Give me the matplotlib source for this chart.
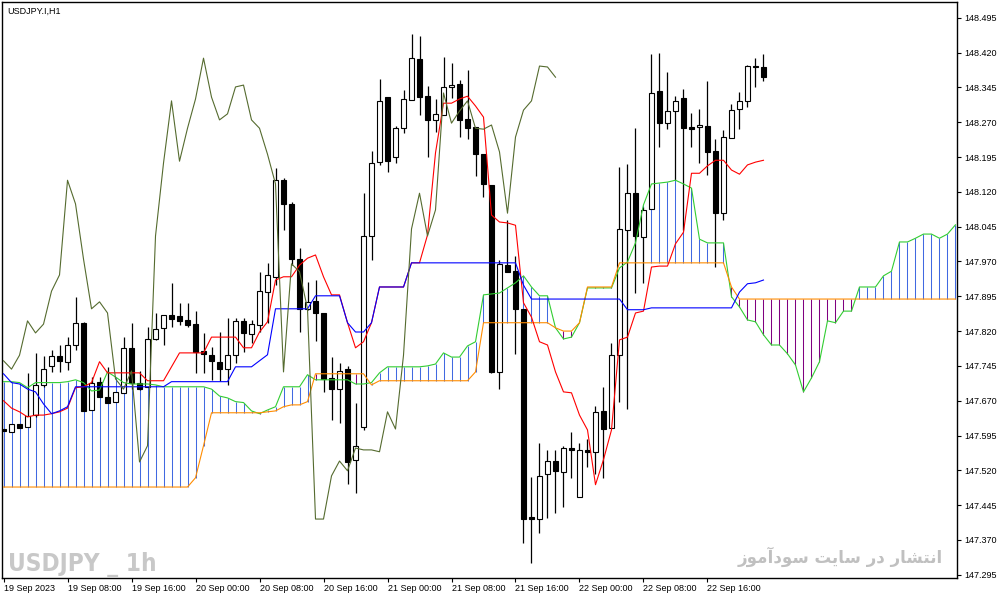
import matplotlib
matplotlib.use('Agg')
import matplotlib.pyplot as plt
import numpy as np

# USDJPY.I H1 candles, 19 Sep 2023 00:00 .. 22 Sep 2023 23:00
opens = [147.609, 147.603, 147.620, 147.614, 147.639, 147.704, 147.745, 147.766, 147.754, 147.790,
         147.838, 147.650, 147.711, 147.678, 147.668, 147.687, 147.783, 147.709, 147.700, 147.803,
         147.827, 147.855, 147.853, 147.844, 147.835, 147.777, 147.768, 147.754, 147.738, 147.768,
         147.842, 147.814, 147.833, 147.904, 147.937, 148.145, 148.094, 147.975, 147.868, 147.885,
         147.859, 147.719, 147.695, 147.738, 147.543, 147.614, 148.025, 148.184, 148.324, 148.195,
         148.257, 148.318, 148.406, 148.326, 148.275, 148.285, 148.346, 148.352, 148.277, 148.260,
         148.201, 148.135, 147.732, 147.962, 147.950, 147.868, 147.420, 147.415, 147.512, 147.540,
         147.517, 147.568, 147.463, 147.564, 147.560, 147.648, 147.611, 147.768, 148.038, 148.117,
         148.023, 148.083, 148.337, 148.268, 148.294, 148.322, 148.260, 148.260, 148.262, 148.208,
         148.074, 148.236, 148.298, 148.316, 148.391, 148.389]
highs = [147.609, 147.620, 147.620, 147.730, 147.773, 147.766, 147.779, 147.790, 147.807, 147.894,
         147.840, 147.721, 147.721, 147.743, 147.689, 147.807, 147.838, 147.734, 147.829, 147.860,
         147.855, 147.924, 147.881, 147.881, 147.864, 147.816, 147.786, 147.818, 147.849, 147.849,
         147.849, 147.844, 147.948, 147.967, 148.171, 148.150, 148.098, 147.999, 147.926, 147.930,
         147.859, 147.764, 147.751, 147.745, 147.666, 148.117, 148.208, 148.363, 148.324, 148.262,
         148.339, 148.460, 148.455, 148.348, 148.320, 148.410, 148.397, 148.361, 148.382, 148.260,
         148.201, 148.135, 147.973, 148.059, 147.982, 147.868, 147.506, 147.579, 147.564, 147.564,
         147.573, 147.603, 147.579, 147.588, 147.659, 147.700, 147.794, 148.173, 148.180, 148.257,
         148.088, 148.417, 148.419, 148.378, 148.326, 148.341, 148.290, 148.298, 148.359, 148.234,
         148.253, 148.309, 148.335, 148.393, 148.408, 148.417]
lows = [147.605, 147.603, 147.611, 147.614, 147.635, 147.700, 147.732, 147.732, 147.736, 147.779,
        147.648, 147.650, 147.678, 147.666, 147.668, 147.687, 147.695, 147.693, 147.700, 147.801,
        147.790, 147.829, 147.833, 147.829, 147.730, 147.730, 147.715, 147.713, 147.704, 147.751,
        147.775, 147.794, 147.818, 147.838, 147.919, 148.038, 147.962, 147.818, 147.866, 147.799,
        147.689, 147.629, 147.622, 147.491, 147.472, 147.607, 147.973, 148.178, 148.163, 148.182,
        148.247, 148.318, 148.285, 148.195, 148.249, 148.285, 148.322, 148.238, 148.234, 148.154,
        148.109, 147.730, 147.695, 147.948, 147.771, 147.364, 147.321, 147.385, 147.418, 147.428,
        147.441, 147.504, 147.463, 147.527, 147.513, 147.504, 147.611, 147.668, 147.652, 147.902,
        147.924, 148.083, 148.216, 148.255, 148.145, 148.038, 148.216, 148.182, 148.156, 147.958,
        148.059, 148.236, 148.255, 148.303, 148.346, 148.359]
closes = [147.605, 147.620, 147.611, 147.637, 147.704, 147.738, 147.766, 147.756, 147.790, 147.838,
          147.648, 147.709, 147.678, 147.666, 147.689, 147.783, 147.709, 147.695, 147.803, 147.825,
          147.855, 147.846, 147.842, 147.833, 147.775, 147.771, 147.756, 147.738, 147.768, 147.842,
          147.816, 147.835, 147.906, 147.941, 148.145, 148.094, 147.975, 147.868, 147.883, 147.859,
          147.717, 147.695, 147.734, 147.538, 147.573, 148.025, 148.182, 148.316, 148.186, 148.257,
          148.320, 148.408, 148.324, 148.275, 148.288, 148.346, 148.350, 148.275, 148.257, 148.201,
          148.137, 147.732, 147.965, 147.948, 147.868, 147.415, 147.415, 147.508, 147.540, 147.519,
          147.568, 147.564, 147.564, 147.560, 147.646, 147.609, 147.768, 148.040, 148.117, 148.025,
          148.081, 148.333, 148.268, 148.294, 148.316, 148.257, 148.255, 148.264, 148.206, 148.074,
          148.238, 148.296, 148.316, 148.391, 148.389, 148.367]

# Ichimoku lines
tenkan = [147.670, 147.654, 147.646, 147.635, 147.639, 147.639, 147.642, 147.646, 147.654, 147.698,
          147.700, 147.709, 147.754, 147.730, 147.730, 147.730, 147.730, 147.730, 147.713, 147.713,
          147.713, 147.743, 147.773, 147.773, 147.773, 147.773, 147.807, 147.807, 147.807, 147.807,
          147.784, 147.784, 147.818, 147.840, 147.930, 147.937, 147.937, 147.962, 147.977, 147.984,
          147.937, 147.898, 147.898, 147.838, 147.784, 147.797, 147.838, 147.915, 147.915, 147.915,
          147.915, 147.967, 147.967, 148.027, 148.204, 148.311, 148.311, 148.320, 148.326, 148.305,
          148.281, 148.070, 148.055, 148.053, 148.048, 147.881, 147.850, 147.797, 147.790, 147.732,
          147.689, 147.687, 147.639, 147.607, 147.489, 147.543, 147.607, 147.801, 147.807, 147.859,
          147.863, 147.958, 147.960, 147.960, 148.008, 148.033, 148.160, 148.160, 148.176, 148.188,
          148.188, 148.167, 148.158, 148.178, 148.184, 148.188]
kijun = [147.728, 147.709, 147.706, 147.695, 147.689, 147.663, 147.642, 147.648, 147.657, 147.700,
         147.700, 147.700, 147.700, 147.700, 147.700, 147.700, 147.700, 147.700, 147.700, 147.700,
         147.700, 147.711, 147.711, 147.711, 147.711, 147.711, 147.711, 147.711, 147.711, 147.743,
         147.743, 147.743, 147.756, 147.769, 147.868, 147.868, 147.868, 147.868, 147.868, 147.896,
         147.896, 147.896, 147.896, 147.838, 147.818, 147.818, 147.838, 147.915, 147.915, 147.915,
         147.915, 147.967, 147.967, 147.967, 147.967, 147.967, 147.967, 147.967, 147.967, 147.967,
         147.967, 147.967, 147.967, 147.967, 147.967, 147.919, 147.889, 147.889, 147.889, 147.889,
         147.889, 147.889, 147.889, 147.889, 147.889, 147.889, 147.889, 147.889, 147.866, 147.866,
         147.866, 147.870, 147.870, 147.870, 147.870, 147.870, 147.870, 147.870, 147.870, 147.870,
         147.870, 147.870, 147.904, 147.922, 147.924, 147.930]
# cloud, drawn 26 bars ahead (runs past the last candle)
span_a = [147.711, 147.711, 147.709, 147.698, 147.709, 147.709, 147.709, 147.709, 147.711, 147.715,
          147.709, 147.691, 147.693, 147.732, 147.721, 147.709, 147.706, 147.706, 147.706, 147.704,
          147.700, 147.700, 147.700, 147.700, 147.700, 147.700, 147.695, 147.680, 147.676, 147.668,
          147.666, 147.648, 147.642, 147.650, 147.657, 147.700, 147.700, 147.700, 147.726, 147.715,
          147.715, 147.715, 147.715, 147.715, 147.706, 147.706, 147.709, 147.730, 147.743, 147.743,
          147.743, 147.743, 147.743, 147.745, 147.749, 147.773, 147.764, 147.764, 147.788, 147.797,
          147.898, 147.900, 147.902, 147.913, 147.924, 147.939, 147.915, 147.896, 147.896, 147.827,
          147.803, 147.807, 147.838, 147.913, 147.913, 147.913, 147.913, 147.956, 147.969, 148.010,
          148.092, 148.137, 148.139, 148.141, 148.145, 148.137, 148.128, 148.018, 148.010, 148.010,
          148.010, 147.894, 147.872, 147.844, 147.840, 147.812, 147.790, 147.790, 147.771, 147.747,
          147.689, 147.719, 147.754, 147.842, 147.838, 147.863, 147.863, 147.915, 147.915, 147.915,
          147.939, 147.949, 148.012, 148.012, 148.020, 148.029, 148.029, 148.020, 148.029, 148.049]
span_b = [147.484, 147.484, 147.484, 147.484, 147.484, 147.484, 147.484, 147.484, 147.484, 147.484,
          147.484, 147.484, 147.484, 147.484, 147.484, 147.484, 147.484, 147.484, 147.484, 147.484,
          147.484, 147.484, 147.484, 147.484, 147.504, 147.573, 147.644, 147.644, 147.644, 147.644,
          147.644, 147.644, 147.644, 147.646, 147.648, 147.657, 147.661, 147.661, 147.668, 147.728,
          147.728, 147.728, 147.728, 147.728, 147.728, 147.728, 147.704, 147.713, 147.713, 147.713,
          147.713, 147.713, 147.713, 147.713, 147.713, 147.713, 147.713, 147.713, 147.713, 147.732,
          147.838, 147.838, 147.838, 147.838, 147.838, 147.838, 147.838, 147.838, 147.838, 147.827,
          147.820, 147.820, 147.838, 147.915, 147.915, 147.915, 147.915, 147.967, 147.967, 147.967,
          147.967, 147.967, 147.967, 147.967, 147.967, 147.967, 147.967, 147.967, 147.967, 147.967,
          147.967, 147.915, 147.889, 147.889, 147.889, 147.889, 147.889, 147.889, 147.889, 147.889,
          147.889, 147.889, 147.889, 147.889, 147.889, 147.889, 147.889, 147.889, 147.889, 147.889,
          147.889, 147.889, 147.889, 147.889, 147.889, 147.889, 147.889, 147.889, 147.889, 147.889]
chikou_shift = 26

date_ticks = [0, 8, 16, 24, 32, 40, 48, 56, 64, 72, 80, 88]
date_labels = ['19 Sep 2023', '19 Sep 08:00', '19 Sep 16:00', '20 Sep 00:00', '20 Sep 08:00',
               '20 Sep 16:00', '21 Sep 00:00', '21 Sep 08:00', '21 Sep 16:00', '22 Sep 00:00',
               '22 Sep 08:00', '22 Sep 16:00']
price_ticks = [147.295, 147.370, 147.445, 147.520, 147.595, 147.670, 147.745, 147.820, 147.895,
               147.970, 148.045, 148.120, 148.195, 148.270, 148.345, 148.420, 148.495]

o = np.array(opens); h = np.array(highs); l = np.array(lows); c = np.array(closes)
bars = np.arange(len(o))
a = np.array(span_a); b = np.array(span_b)
cloud_bars = np.arange(len(a))

fig = plt.figure(figsize=(10.04, 5.99), dpi=100)
ax = fig.add_axes([2 / 1004, 21 / 599, 955 / 1004, 576 / 599])

# cloud hatching, one stroke per bar
up = a >= b
ax.vlines(cloud_bars[up], b[up], a[up], color='#4169E1', lw=0.75, zorder=1)
ax.vlines(cloud_bars[~up], a[~up], b[~up], color='#800080', lw=0.75, zorder=1)

# candles
ax.vlines(bars, l, h, color='black', lw=0.9, zorder=2)
bull = c >= o
ax.bar(bars[bull], c[bull] - o[bull], bottom=o[bull], width=0.6,
       color='white', edgecolor='black', lw=0.8, zorder=3)
ax.bar(bars[~bull], o[~bull] - c[~bull], bottom=c[~bull], width=0.6,
       color='black', edgecolor='black', lw=0.8, zorder=3)

# ichimoku lines
ax.plot(cloud_bars, a, color='#32CD32', lw=0.8, zorder=4)
ax.plot(cloud_bars, b, color='#FF8C00', lw=0.8, zorder=4)
ax.plot(bars, tenkan, color='#FF0000', lw=0.8, zorder=5)
ax.plot(bars, kijun, color='#0000FF', lw=0.8, zorder=5)
ax.plot(bars[:-chikou_shift], c[chikou_shift:], color='#556B2F', lw=0.8, zorder=5)

ax.set_xlim(-0.19, 119.19)
ax.set_ylim(147.288, 148.529)

ax.yaxis.tick_right()
ax.set_yticks(price_ticks)
ax.set_yticklabels(['%.3f' % p for p in price_ticks], family='Liberation Sans')
ax.set_xticks(date_ticks)
ax.set_xticklabels(date_labels, ha='left', family='Liberation Sans')
ax.tick_params(axis='y', direction='out', length=3, width=0.8, pad=2, labelsize=6.5)
ax.tick_params(axis='x', direction='out', length=3, width=0.8, pad=1.5, labelsize=6.5)
for s in ax.spines.values():
    s.set_color('black')
    s.set_linewidth(1.0)

fig.text(7 / 1004, 1 - 11 / 599, 'USDJPY.I,H1', fontsize=6.5, family='Liberation Sans',
         va='center', ha='left')
fig.text(8 / 1004, 1 - 571 / 599, 'USDJPY _ 1h', fontsize=17.5, fontweight='bold',
         family='DejaVu Sans', fontstretch='condensed', color='#C8C8C8', ha='left', va='baseline')
# "انتشار در سایت سودآموز" in joined (presentation) forms, visual order
fa_text = '\uFEAF\uFEEE\uFEE3\uFE81\uFEA9\uFEEE\uFEB3 \uFE96\uFEF3\uFE8E\uFEB3 \uFEAD\uFEA9 \uFEAD\uFE8E\uFEB8\uFE98\uFEE7\uFE8D'
fig.text(943 / 1004, 1 - 557 / 599, fa_text, fontsize=12, fontweight='bold',
         family='DejaVu Sans', color='#C0C0C0', ha='right', va='center')

fig.savefig('out.png', dpi=100)
